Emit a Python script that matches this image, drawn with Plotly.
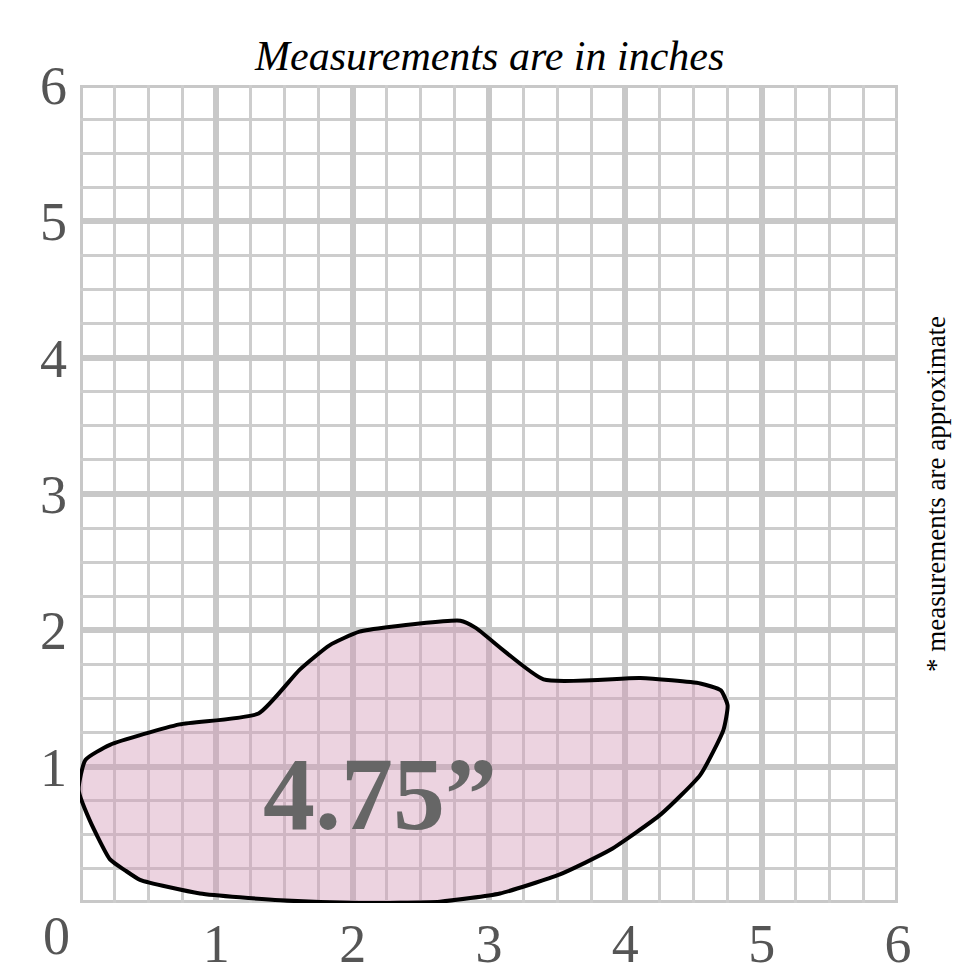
import plotly.graph_objects as go

shape_x = [0.04, 0.22, 0.73, 1.31, 1.61, 1.83, 2.05, 2.49, 2.79, 2.90, 3.40, 4.11, 4.55, 4.70, 4.75,
           4.72, 4.55, 4.26, 3.89, 3.52, 3.08, 2.64, 2.05, 1.47, 0.88, 0.44, 0.33, 0.22, 0.07, -0.01, 0.04]
shape_y = [1.05, 1.16, 1.31, 1.39, 1.71, 1.89, 1.99, 2.05, 2.07, 2.02, 1.64, 1.65, 1.61, 1.56, 1.45,
           1.27, 0.94, 0.65, 0.39, 0.21, 0.07, 0.01, 0.00, 0.02, 0.07, 0.17, 0.24, 0.32, 0.61, 0.83, 1.05]
x_ticks = [1, 2, 3, 4, 5, 6]
y_ticks = [1, 2, 3, 4, 5, 6]
size_label = "4.75”"

fig = go.Figure()
fig.add_trace(go.Scatter(x=shape_x, y=shape_y, mode="lines", fill="toself",
                         fillcolor="rgba(210,150,180,0.42)",
                         line=dict(color="black", width=4, shape="spline", smoothing=0.5),
                         hoverinfo="skip", showlegend=False))
fig.add_annotation(x=2.2, y=0.8, text="<b>" + size_label + "</b>", showarrow=False,
                   font=dict(family="Liberation Serif", size=104, color="#666666"))
fig.add_annotation(x=0.5, y=1.0, xref="paper", yref="paper", yanchor="bottom", yshift=4,
                   text="<i>Measurements are in inches</i>", showarrow=False,
                   font=dict(family="Liberation Serif", size=42, color="black"))
fig.add_annotation(x=1.0, y=0.5, xref="paper", yref="paper", xanchor="center", yanchor="middle",
                   xshift=38, text="* measurements are approximate", textangle=-90, showarrow=False,
                   font=dict(family="Liberation Serif", size=27, color="black"))
fig.add_annotation(x=0, y=0, xref="paper", yref="paper", xanchor="center", yanchor="middle",
                   xshift=-24, yshift=-33, text="0", showarrow=False,
                   font=dict(family="Liberation Serif", size=54, color="#555555"))

def axis(ticks, standoff):
    return dict(range=[0, 6], tickvals=ticks, showgrid=True, gridcolor="#c8c8c8", gridwidth=6,
                zeroline=False, showline=False, ticks="", automargin=False,
                ticklabelstandoff=standoff,
                minor=dict(dtick=0.25, showgrid=True, gridcolor="#cdcdcd", gridwidth=3),
                tickfont=dict(family="Liberation Serif", size=54, color="#555555"))

fig.update_xaxes(**axis(x_ticks, 4))
fig.update_yaxes(**axis(y_ticks, 12))
fig.add_hline(y=0, line=dict(color="#c8c8c8", width=6), layer="below")
fig.add_vline(x=0, line=dict(color="#c8c8c8", width=6), layer="below")
fig.add_hline(y=6, line=dict(color="#c8c8c8", width=6), layer="below")
fig.add_vline(x=6, line=dict(color="#c8c8c8", width=6), layer="below")
fig.update_layout(width=980, height=980, margin=dict(l=72, r=90, t=77, b=85),
                  paper_bgcolor="white", plot_bgcolor="white")
fig.write_html("out.html")
